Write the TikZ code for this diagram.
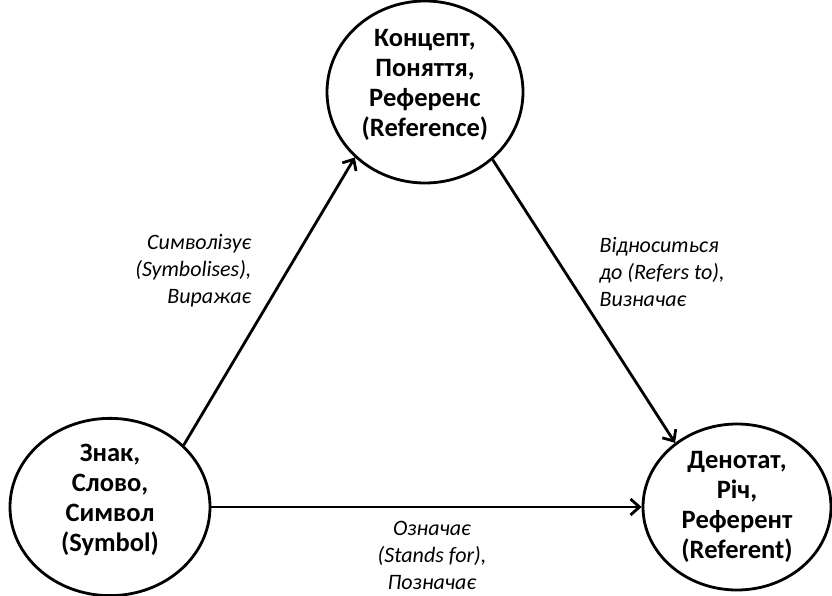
\documentclass[tikz,border=0pt]{standalone}
\usepackage{fontspec}
\setmainfont{Carlito}
\usetikzlibrary{shapes.geometric,arrows.meta}

\begin{document}
\begin{tikzpicture}[x=1pt,y=1pt,
    term/.style={ellipse, draw, line width=2.8pt, inner sep=0pt, align=center,
      text depth=18pt, font=\fontsize{26.5}{30}\selectfont\bfseries},
    rel/.style={font=\fontsize{22}{27}\selectfont\itshape},
    arr/.style={line width=2.8pt, -{Straight Barb[length=9pt,width=16pt,line width=2.8pt]}}]

  \useasboundingbox (0,0) rectangle (832,595);

  % the three corners of the triangle
  \node[term, minimum width=196, minimum height=182] (con) at (425,503)
    {Концепт,\\Поняття,\\Референс\\(Reference)};
  \node[term, minimum width=200, minimum height=174] (sym) at (110,88)
    {Знак,\\Слово,\\Символ\\(Symbol)};
  \node[term, text depth=, minimum width=188, minimum height=166] (den) at (737,88)
    {Денотат,\\Річ,\\Референт\\(Referent)};

  % sides
  \draw[arr] (sym.40) -- (con.223);
  \draw[arr] (con.-45) -- (den.134);
  \draw[arr] (sym.east) -- (den.west);

  % relation names
  \node[rel, anchor=east, align=right] (symb) at (255,324)
    {Символізує\\(Symbolises),\\Виражає};
  \node[rel, anchor=west, align=left] (refs) at (596,323)
    {Відноситься\\до (Refers to),\\Визначає};
  \node[rel, align=center] (stand) at (432,40)
    {Означає\\(Stands for),\\Позначає};

\end{tikzpicture}
\end{document}
